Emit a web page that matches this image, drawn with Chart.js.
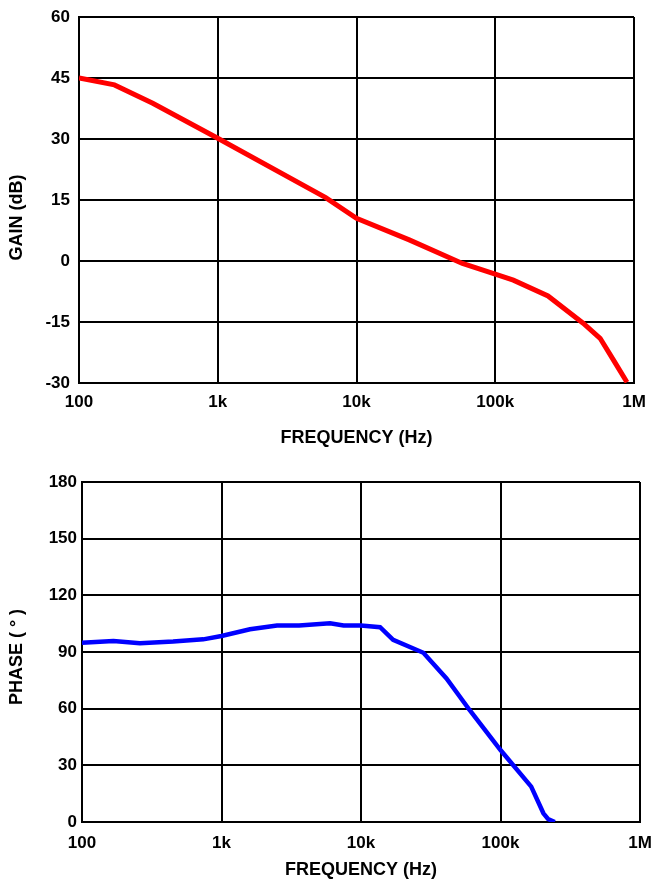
<!DOCTYPE html>
<html>
<head>
<meta charset="utf-8">
<script src="https://cdn.jsdelivr.net/npm/chart.js@4/dist/chart.umd.min.js"></script>
<style>
  html, body { margin: 0; padding: 0; background: #fff; }
  #wrap { position: relative; width: 652px; height: 881px; }
  #gainBox { position: absolute; left: 0; top: 0; }
  #phaseBox { position: absolute; left: 0; top: 460px; }
</style>
</head>
<body>
<div id="wrap">
  <div id="gainBox"><canvas id="gainChart" width="652" height="450"></canvas></div>
  <div id="phaseBox"><canvas id="phaseChart" width="652" height="421"></canvas></div>
</div>
<script>
// frequency axis (Hz) - decade ticks
var freqTicks = [100, 1000, 10000, 100000, 1000000]
var freqLabels = ['100', '1k', '10k', '100k', '1M']

// gain curve
var gainFreq = [100, 180, 340, 1000, 6000, 10000, 24000, 58000, 100000, 135000, 240000, 430000, 570000, 710000, 890000]
var gainDb = [45, 43.3, 38.8, 30.2, 15.6, 10.5, 5.2, -0.6, -3.2, -4.7, -8.6, -15.3, -19, -24.3, -29.8]
var gainTicks = [-30, -15, 0, 15, 30, 45, 60]

// phase curve
var phaseFreq = [100, 168, 260, 450, 740, 1000, 1600, 2500, 3600, 6000, 7500, 10000, 13700, 17000, 28000, 41000, 60000, 100000, 166000, 203000, 219000, 245000]
var phaseDeg = [94.9, 95.8, 94.6, 95.5, 96.7, 98.5, 102, 104, 104, 105.2, 104, 104, 103.1, 96.4, 89.6, 76, 59.3, 38.1, 18.7, 4.6, 1.6, 0]
var phaseTicks = [0, 30, 60, 90, 120, 150, 180]

var tickFont = { family: 'Liberation Sans, Arial, sans-serif', size: 17, weight: 'bold' }
var titleFont = { family: 'Liberation Sans, Arial, sans-serif', size: 18, weight: 'bold' }

function toPoints(xs, ys) {
    var pts = []
    for (let i = 0; i < xs.length; i++) {
        pts.push({ x: xs[i], y: ys[i] })
    }
    return pts
}

function makeChart(id, opts) {
    var ctx = document.getElementById(id).getContext('2d')
    return new Chart(ctx, {
        type: 'line',
        data: {
            datasets: [{
                data: toPoints(opts.xs, opts.ys),
                borderColor: opts.color,
                borderWidth: opts.lineWidth,
                pointRadius: 0,
                tension: 0,
                fill: false
            }]
        },
        options: {
            responsive: false,
            animation: false,
            layout: { padding: opts.padding },
            plugins: { legend: { display: false }, tooltip: { enabled: false } },
            scales: {
                x: {
                    type: 'logarithmic',
                    min: 100,
                    max: 1000000,
                    afterBuildTicks: function (scale) {
                        scale.ticks = freqTicks.map(v => ({ value: v }))
                    },
                    afterFit: function (scale) {
                        scale.height = opts.xHeight
                        // labels may hang over the edges, the layout padding handles it
                        scale.paddingLeft = 0
                        scale.paddingRight = 0
                    },
                    ticks: {
                        color: '#000',
                        font: tickFont,
                        padding: opts.xTickPad,
                        maxRotation: 0,
                        autoSkip: false,
                        callback: function (value) {
                            var i = freqTicks.indexOf(value)
                            return i >= 0 ? freqLabels[i] : ''
                        }
                    },
                    grid: { color: '#000', lineWidth: 2, drawTicks: false },
                    border: { color: '#000', width: 2 },
                    title: {
                        display: true,
                        text: 'FREQUENCY (Hz)',
                        color: '#000',
                        font: titleFont,
                        padding: { top: 0, bottom: opts.xTitlePad }
                    }
                },
                y: {
                    min: opts.yTicks[0],
                    max: opts.yTicks[opts.yTicks.length - 1],
                    afterBuildTicks: function (scale) {
                        scale.ticks = opts.yTicks.map(v => ({ value: v }))
                    },
                    afterFit: function (scale) {
                        scale.width = opts.yWidth
                        scale.paddingTop = 0
                        scale.paddingBottom = 0
                    },
                    ticks: {
                        color: '#000',
                        font: tickFont,
                        padding: opts.yTickPad
                    },
                    grid: { color: '#000', lineWidth: 2, drawTicks: false },
                    border: { color: '#000', width: 2 },
                    title: {
                        display: true,
                        text: opts.yTitle,
                        color: '#000',
                        font: titleFont,
                        padding: { top: 6, bottom: 0 }
                    }
                }
            }
        }
    })
}

// trailing spaces nudge the rotated titles down a little, like the original
makeChart('gainChart', {
    xs: gainFreq, ys: gainDb, color: '#ff0000', lineWidth: 5,
    yTicks: gainTicks, yTitle: 'GAIN (dB)       ',
    padding: { left: 0, right: 18, top: 17, bottom: 0 },
    xHeight: 67, yWidth: 79, xTickPad: 9, yTickPad: 9, xTitlePad: 1
})

makeChart('phaseChart', {
    xs: phaseFreq, ys: phaseDeg, color: '#0000ff', lineWidth: 4.5,
    yTicks: phaseTicks, yTitle: 'PHASE ( ° )  ',
    padding: { left: 0, right: 12, top: 22, bottom: 0 },
    xHeight: 59, yWidth: 82, xTickPad: 11, yTickPad: 5, xTitlePad: 0
})
</script>
</body>
</html>
